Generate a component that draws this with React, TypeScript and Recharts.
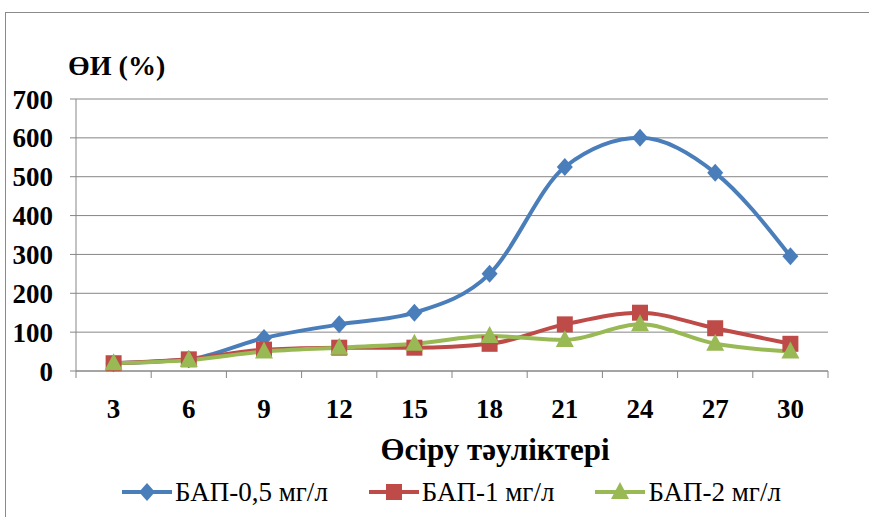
import { LineChart, Line, XAxis, YAxis, CartesianGrid, Legend } from "recharts";

const days = ["3", "6", "9", "12", "15", "18", "21", "24", "27", "30"];
const bap05 = [20, 30, 85, 120, 150, 250, 525, 600, 510, 295];
const bap1 = [20, 30, 55, 60, 60, 70, 120, 150, 110, 70];
const bap2 = [20, 28, 50, 60, 70, 90, 80, 120, 70, 50];
const yTicks = [0, 100, 200, 300, 400, 500, 600, 700];

const seriesNames = ["БАП-0,5 мг/л", "БАП-1 мг/л", "БАП-2 мг/л"];
const colors = ["#4A7EBB", "#BE4B48", "#98B954"];

const data = days.map((d, i) => ({ day: d, a: bap05[i], b: bap1[i], c: bap2[i] }));

const FONT = "Liberation Serif, Tinos, Times New Roman, DejaVu Serif, serif";
const BAND = (828 - 76) / days.length;

function Marker({ kind, cx, cy, color }: { kind: number; cx: number; cy: number; color: string }) {
  if (kind === 0) {
    return <path d={`M${cx},${cy - 9} L${cx + 8},${cy} L${cx},${cy + 9} L${cx - 8},${cy} Z`} fill={color} />;
  }
  if (kind === 1) {
    return <rect x={cx - 8} y={cy - 8} width={16} height={16} fill={color} />;
  }
  return <path d={`M${cx},${cy - 10} L${cx + 9},${cy + 7} L${cx - 9},${cy + 7} Z`} fill={color} />;
}

const makeDot = (kind: number) => (props: any) => {
  const { cx, cy, index } = props;
  return <Marker key={`d${kind}-${index}`} kind={kind} cx={cx} cy={cy} color={colors[kind]} />;
};

function XTick(props: any) {
  const { x, y, payload, index } = props;
  const left = x - BAND / 2;
  return (
    <g>
      <line x1={left} y1={y} x2={left} y2={y + 7} stroke="#868686" />
      {index === days.length - 1 && (
        <line x1={x + BAND / 2} y1={y} x2={x + BAND / 2} y2={y + 7} stroke="#868686" />
      )}
      <text x={x} y={y + 47} textAnchor="middle" fontFamily={FONT} fontWeight="bold" fontSize={27} fill="#000">
        {payload.value}
      </text>
    </g>
  );
}

function LegendBox() {
  return (
    <div style={{ display: "flex", justifyContent: "center", alignItems: "center", gap: 40, height: 40, paddingLeft: 68, fontFamily: FONT, fontSize: 27 }}>
      {seriesNames.map((name, i) => (
        <div key={name} style={{ display: "flex", alignItems: "center" }}>
          <svg width={52} height={22}>
            <line x1={1} y1={11} x2={51} y2={11} stroke={colors[i]} strokeWidth={4} />
            <Marker kind={i} cx={26} cy={11} color={colors[i]} />
          </svg>
          <span style={{ marginLeft: 2, color: "#000" }}>{name}</span>
        </div>
      ))}
    </div>
  );
}

export default function App() {
  return (
    <div style={{ position: "absolute", left: 0, top: 0, width: 869, height: 517, background: "#fff", overflow: "hidden" }}>
      <div style={{ position: "absolute", left: 5, top: 12, width: 900, height: 600, border: "1.5px solid #8a8a8a", boxSizing: "border-box" }} />
      <LineChart width={869} height={517} data={data} margin={{ top: 99, right: 41, left: 6, bottom: 5 }}>
        <CartesianGrid vertical={false} stroke="#868686" />
        <XAxis
          dataKey="day"
          padding={{ left: BAND / 2, right: BAND / 2 }}
          height={101}
          tickLine={false}
          tickSize={0}
          tickMargin={0}
          stroke="#868686"
          interval={0}
          tick={<XTick />}
          label={{
            content: (p: any) => (
              <text
                x={p.viewBox.x + p.viewBox.width / 2 + 43}
                y={p.viewBox.y + 89}
                textAnchor="middle"
                fontFamily={FONT}
                fontWeight="bold"
                fontSize={31}
                fill="#000"
              >
                Өсіру тәуліктері
              </text>
            ),
          }}
        />
        <YAxis
          domain={[0, 700]}
          ticks={yTicks}
          width={70}
          tickSize={6}
          tickMargin={17}
          stroke="#868686"
          tick={{ fontFamily: FONT, fontWeight: "bold", fontSize: 27, fill: "#000" }}
          label={{
            content: (p: any) => (
              <text x={p.viewBox.x + 62} y={p.viewBox.y - 24} fontFamily={FONT} fontWeight="bold" fontSize={28} fill="#000">
                ӨИ (%)
              </text>
            ),
          }}
        />
        <Legend verticalAlign="bottom" content={<LegendBox />} />
        <Line type="monotone" dataKey="a" name={seriesNames[0]} stroke={colors[0]} strokeWidth={4} dot={makeDot(0)} isAnimationActive={false} />
        <Line type="monotone" dataKey="b" name={seriesNames[1]} stroke={colors[1]} strokeWidth={4} dot={makeDot(1)} isAnimationActive={false} />
        <Line type="monotone" dataKey="c" name={seriesNames[2]} stroke={colors[2]} strokeWidth={4} dot={makeDot(2)} isAnimationActive={false} />
      </LineChart>
    </div>
  );
}
